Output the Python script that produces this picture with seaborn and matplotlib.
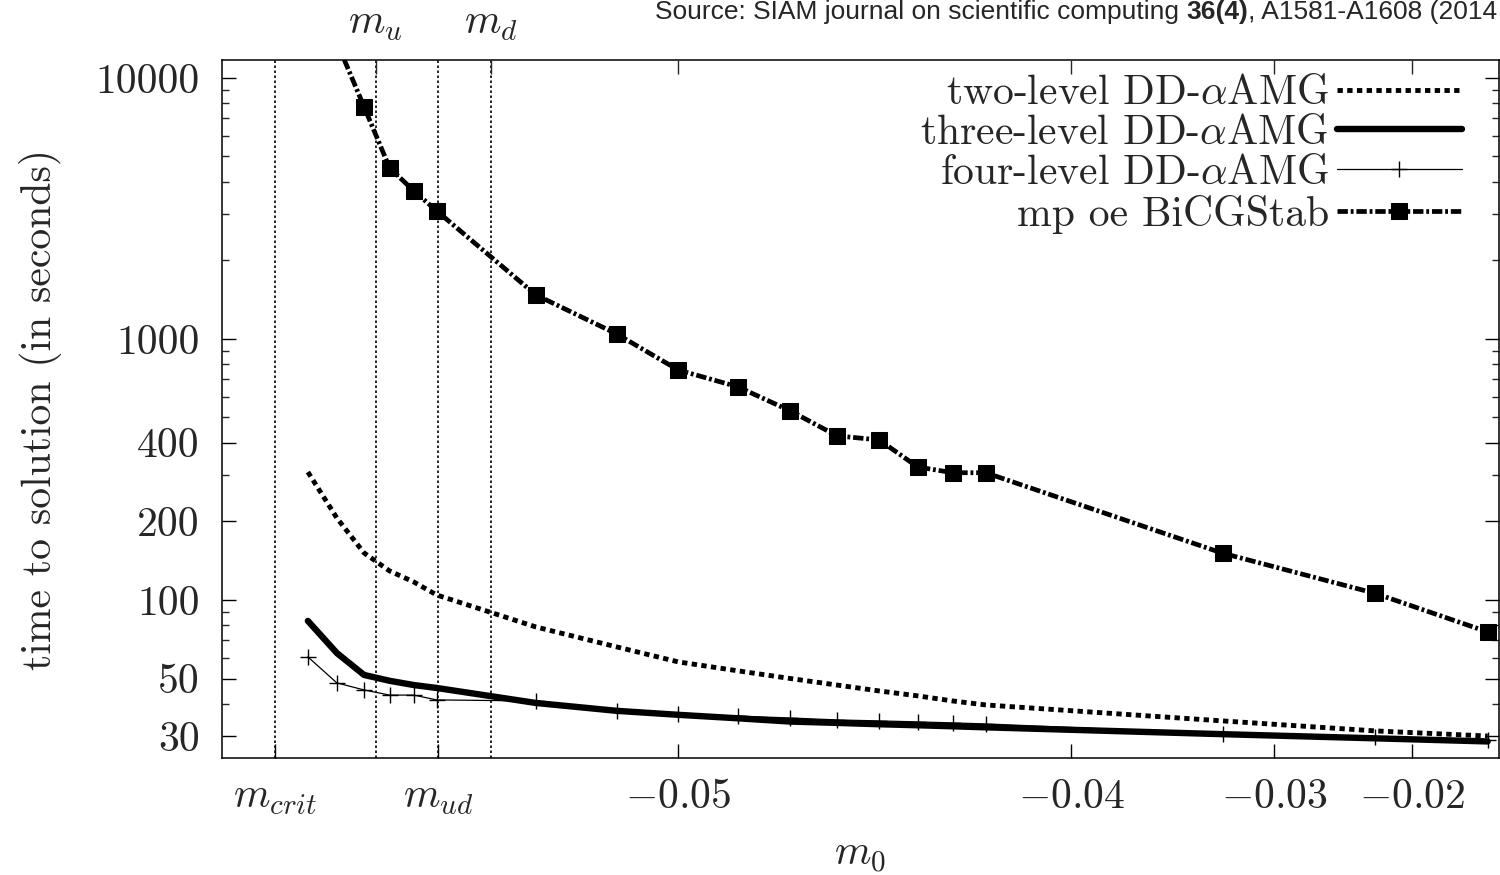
"""
    time to solution vs. bare mass m0 for DD-alphaAMG / BiCGStab (log-log style)
"""
import matplotlib
matplotlib.use("Agg")
import matplotlib.pyplot as plt
import numpy as np
import seaborn as sns
from matplotlib.ticker import FixedLocator, NullFormatter

## values
m0_mg = [-0.0539, -0.0537, -0.0535, -0.0533, -0.0531, -0.0529, -0.0519, -0.0509, -0.05,
         -0.049, -0.048, -0.047, -0.046, -0.045, -0.044, -0.043, -0.033, -0.023, -0.013]
t_two_level = [309, 206, 151.4, 129.1, 117.2, 104.5, 78.8, 66.1, 57.9,
               53.5, 50.0, 47.2, 44.8, 42.9, 41.0, 39.6, 34.4, 31.5, 30.1]
t_three_level = [83.1, 62.6, 51.6, 49.0, 47.2, 46.0, 40.3, 37.6, 36.3,
                 35.2, 34.2, 33.8, 33.4, 33.1, 32.8, 32.5, 30.6, 29.5, 28.7]
t_four_level = [60.5, 48.1, 45.2, 43.2, 43.2, 41.4, 41.0, 37.6, 36.6,
                35.9, 35.3, 34.7, 34.4, 34.1, 33.8, 33.5, 30.7, 29.9, 29.0]

m0_bicg = [-0.0537, -0.0535, -0.0533, -0.0531, -0.0529, -0.0519, -0.0509, -0.05,
           -0.049, -0.048, -0.047, -0.046, -0.045, -0.044, -0.043, -0.033, -0.023, -0.013]
t_bicg = [13700, 7750, 4520, 3690, 3094, 1474, 1045, 760,
          655, 530, 425, 410, 323, 307, 307, 151, 106, 75.4]

# special masses (vertical dotted lines)
m_crit, m_u, m_ud, m_d = -0.05411, -0.05341, -0.05289, -0.05238

bottom_ticks = [m_crit, m_ud, -0.05, -0.04, -0.03, -0.02]
bottom_labels = [r'$m_{crit}$', r'$m_{ud}$', r'$-0.05$', r'$-0.04$', r'$-0.03$', r'$-0.02$']
top_ticks = [m_u, m_d, -0.05, -0.04, -0.03, -0.02]
top_labels = [r'$m_u$', r'$m_d$', '', '', '', '']

y_major = [30, 50, 100, 200, 400, 1000, 10000]
y_major_labels = ['30', '50', '100', '200', '400', '1000', '10000']
y_minor = [40, 60, 70, 80, 90, 300, 500, 600, 700, 800, 900,
           2000, 3000, 4000, 5000, 6000, 7000, 8000, 9000]

# x axis is logarithmic in the distance to this shift
m_shift = -0.0568


def fwd(x):
    return np.log(np.clip(np.asarray(x, dtype=float) - m_shift, 1e-7, None))


def inv(y):
    return np.exp(y) + m_shift


sns.set_style('ticks')
plt.rcParams['font.family'] = ['cmr10', 'DejaVu Serif']
plt.rcParams['mathtext.fontset'] = 'cm'
plt.rcParams['axes.unicode_minus'] = False
plt.rcParams['axes.formatter.use_mathtext'] = True

fig = plt.figure(figsize=(15, 8.75), dpi=100)
ax = fig.add_axes([222 / 1500, 1 - 758 / 875, 1277 / 1500, 698 / 875])

sns.lineplot(x=m0_mg, y=t_two_level, ax=ax, color='black', lw=3.5,
             linestyle=(0, (1.1, 0.9)), label=r'two-level DD-$\alpha$AMG',
             legend=False, errorbar=None)
sns.lineplot(x=m0_mg, y=t_three_level, ax=ax, color='black', lw=4.6,
             label=r'three-level DD-$\alpha$AMG', legend=False, errorbar=None)
sns.lineplot(x=m0_mg, y=t_four_level, ax=ax, color='black', lw=0.9, marker='+',
             markersize=12, markeredgewidth=1.0, markeredgecolor='black',
             label=r'four-level DD-$\alpha$AMG', legend=False, errorbar=None)
sns.lineplot(x=m0_bicg, y=t_bicg, ax=ax, color='black', lw=3.4,
             linestyle=(0, (2.2, 0.6, 0.6, 0.6)), marker='s', markersize=11,
             markeredgecolor='black', markerfacecolor='black',
             label='mp oe BiCGStab', legend=False, errorbar=None)

for m in [m_crit, m_u, m_ud, m_d]:
    ax.axvline(m, color='black', lw=1.2, linestyle=(0, (1.5, 1.5)), zorder=1)

ax.set_xscale('function', functions=(fwd, inv))
ax.set_yscale('log')
ax.set_xlim(-0.05442, -0.01184)
ax.set_ylim(24.8, 11700)

ax.xaxis.set_major_locator(FixedLocator(bottom_ticks))
ax.set_xticklabels(bottom_labels)
ax.xaxis.set_minor_locator(FixedLocator([]))
ax.yaxis.set_major_locator(FixedLocator(y_major))
ax.set_yticklabels(y_major_labels)
ax.yaxis.set_minor_locator(FixedLocator(y_minor))
ax.yaxis.set_minor_formatter(NullFormatter())

ax.tick_params(axis='both', which='major', direction='in', length=10, width=1.0,
               labelsize=30, color='black')
ax.tick_params(axis='y', which='minor', direction='in', length=5, width=1.0)
ax.tick_params(axis='y', which='both', left=True, right=True, pad=16)
ax.tick_params(axis='x', which='both', bottom=True, top=False, pad=36)
for lbl in ax.get_xticklabels():
    lbl.set_va('baseline')

for sp in ax.spines.values():
    sp.set_color('black')
    sp.set_linewidth(1.1)

# top axis carries m_u / m_d
ax_top = ax.twiny()
ax_top.set_xscale('function', functions=(fwd, inv))
ax_top.set_xlim(ax.get_xlim())
ax_top.xaxis.set_major_locator(FixedLocator(top_ticks))
ax_top.set_xticklabels(top_labels)
ax_top.xaxis.set_minor_locator(FixedLocator([]))
ax_top.tick_params(axis='x', direction='in', length=10, width=1.0, labelsize=30,
                   top=True, bottom=False, pad=19)
for lbl in ax_top.get_xticklabels():
    lbl.set_va('baseline')
for sp in ax_top.spines.values():
    sp.set_visible(False)

ax.set_ylabel('time to solution (in seconds)', fontsize=30)
ax.yaxis.set_label_coords(-0.1253, 0.5)
ax.set_xlabel(r'$m_0$', fontsize=30, va='top')
ax.xaxis.set_label_coords(0.5, -0.1146)

leg = ax.legend(loc='upper right', bbox_to_anchor=(0.971, 0.979), frameon=False,
                markerfirst=False, fontsize=30, handlelength=3.0, handletextpad=0.2,
                labelspacing=0.06, borderaxespad=0, borderpad=0)

# source line, chained right-to-left so it ends at the right edge
src_c = fig.text(1497 / 1500, 1 - 19 / 875, ', A1581-A1608 (2014',
                 family='Liberation Sans', fontsize=19, va='baseline', ha='right')
src_b = ax.annotate('36(4)', xy=(0, 0), xycoords=src_c, va='bottom', ha='right',
                    family='Liberation Sans', fontsize=19, fontweight='bold',
                    annotation_clip=False)
ax.annotate('Source: SIAM journal on scientific computing ', xy=(0, 0), xycoords=src_b,
            va='bottom', ha='right', family='Liberation Sans', fontsize=19,
            annotation_clip=False)

fig.savefig('out.png', dpi=100)
